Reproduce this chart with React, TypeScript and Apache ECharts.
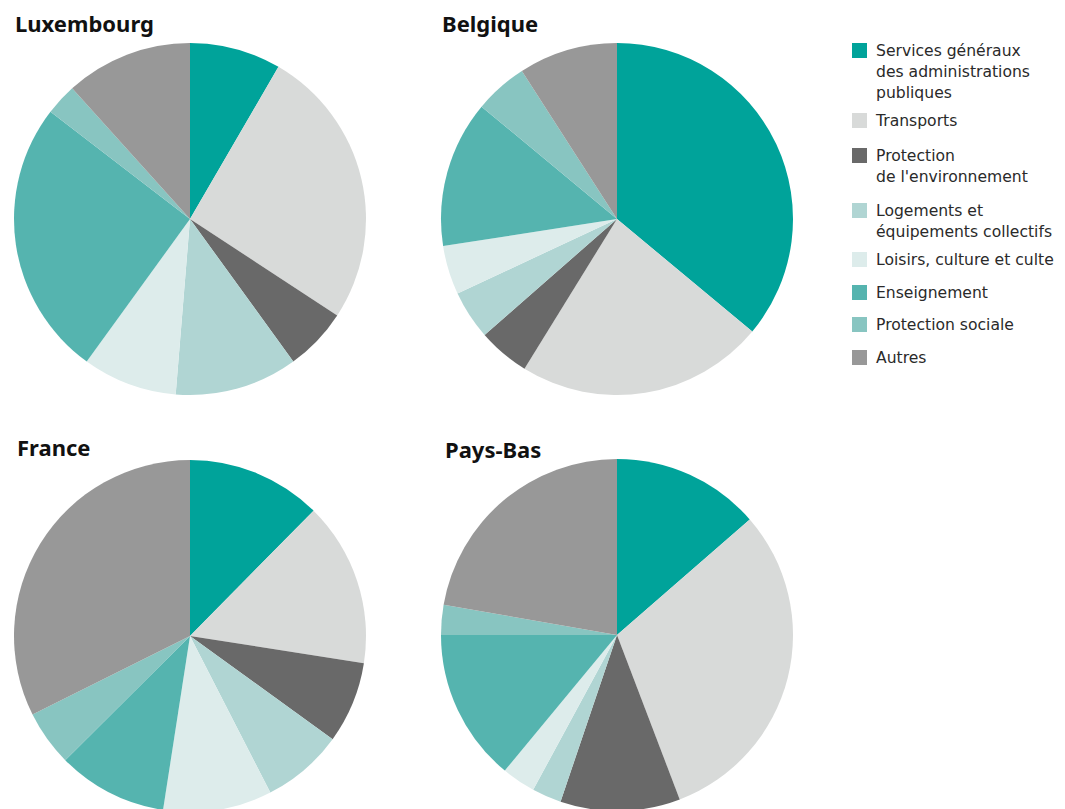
import React, { useEffect, useRef } from "react";
import * as echarts from "echarts";

const categories = [
  "Services généraux des administrations publiques",
  "Transports",
  "Protection de l'environnement",
  "Logements et équipements collectifs",
  "Loisirs, culture et culte",
  "Enseignement",
  "Protection sociale",
  "Autres",
];

const legendLines = [
  ["Services généraux", "des administrations", "publiques"],
  ["Transports"],
  ["Protection", "de l'environnement"],
  ["Logements et", "équipements collectifs"],
  ["Loisirs, culture et culte"],
  ["Enseignement"],
  ["Protection sociale"],
  ["Autres"],
];

const colors = ["#00A39A", "#D8DAD9", "#696969", "#B0D5D3", "#DDECEB", "#55B4AF", "#88C5C1", "#989898"];

const countries = ["Luxembourg", "Belgique", "France", "Pays-Bas"];

const luxembourg = [8.4, 25.9, 5.8, 11.3, 8.7, 25.5, 2.9, 11.7];
const belgique = [36.1, 22.8, 4.75, 4.5, 4.5, 13.5, 4.9, 9.1];
const france = [12.4, 15.1, 7.5, 7.5, 10.0, 10.1, 5.1, 32.4];
const paysBas = [13.6, 30.6, 11.0, 2.7, 3.1, 14.0, 2.75, 22.25];

const seriesValues = [luxembourg, belgique, france, paysBas];

const pieCenters = [
  [190, 219],
  [617, 219],
  [190, 636],
  [617, 635],
];
const titlePos = [
  [15, 12],
  [442, 12],
  [17, 436],
  [445, 438],
];

export default function App() {
  const ref = useRef<HTMLDivElement>(null);
  useEffect(() => {
    if (!ref.current) return;
    const chart = echarts.init(ref.current, null, { renderer: "svg" });

    const legendSquareTops = [43, 113, 148, 203, 252, 285, 317, 350];
    const legendGraphics: any[] = [];
    legendLines.forEach((lines, i) => {
      legendGraphics.push({
        type: "rect",
        shape: { x: 852, y: legendSquareTops[i], width: 15, height: 15 },
        style: { fill: colors[i] },
      });
      lines.forEach((ln, j) => {
        legendGraphics.push({
          type: "text",
          x: 876,
          y: legendSquareTops[i] + 8 + j * 21,
          style: {
            text: ln,
            fill: "#2a2a2a",
            font: "15.6px 'DejaVu Sans'",
            verticalAlign: "middle",
          },
        });
      });
    });

    chart.setOption({
      animation: false,
      backgroundColor: "#ffffff",
      color: colors,
      title: countries.map((c, i) => ({
        text: c,
        left: titlePos[i][0],
        top: titlePos[i][1],
        padding: 0,
        textStyle: {
          fontFamily: "Noto Sans",
          fontWeight: "bold",
          fontSize: 22,
          color: "#111111",
        },
      })),
      graphic: legendGraphics,
      series: seriesValues.map((vals, i) => ({
        type: "pie",
        name: countries[i],
        center: pieCenters[i],
        radius: [0, 176],
        startAngle: 90,
        clockwise: true,
        label: { show: false },
        labelLine: { show: false },
        silent: true,
        itemStyle: { borderWidth: 0 },
        data: categories.map((cat, k) => ({ name: cat, value: vals[k] })),
      })),
    });
    return () => chart.dispose();
  }, []);
  return (
    <div
      ref={ref}
      style={{ position: "fixed", left: 0, top: 0, width: 1065, height: 809 }}
    />
  );
}
